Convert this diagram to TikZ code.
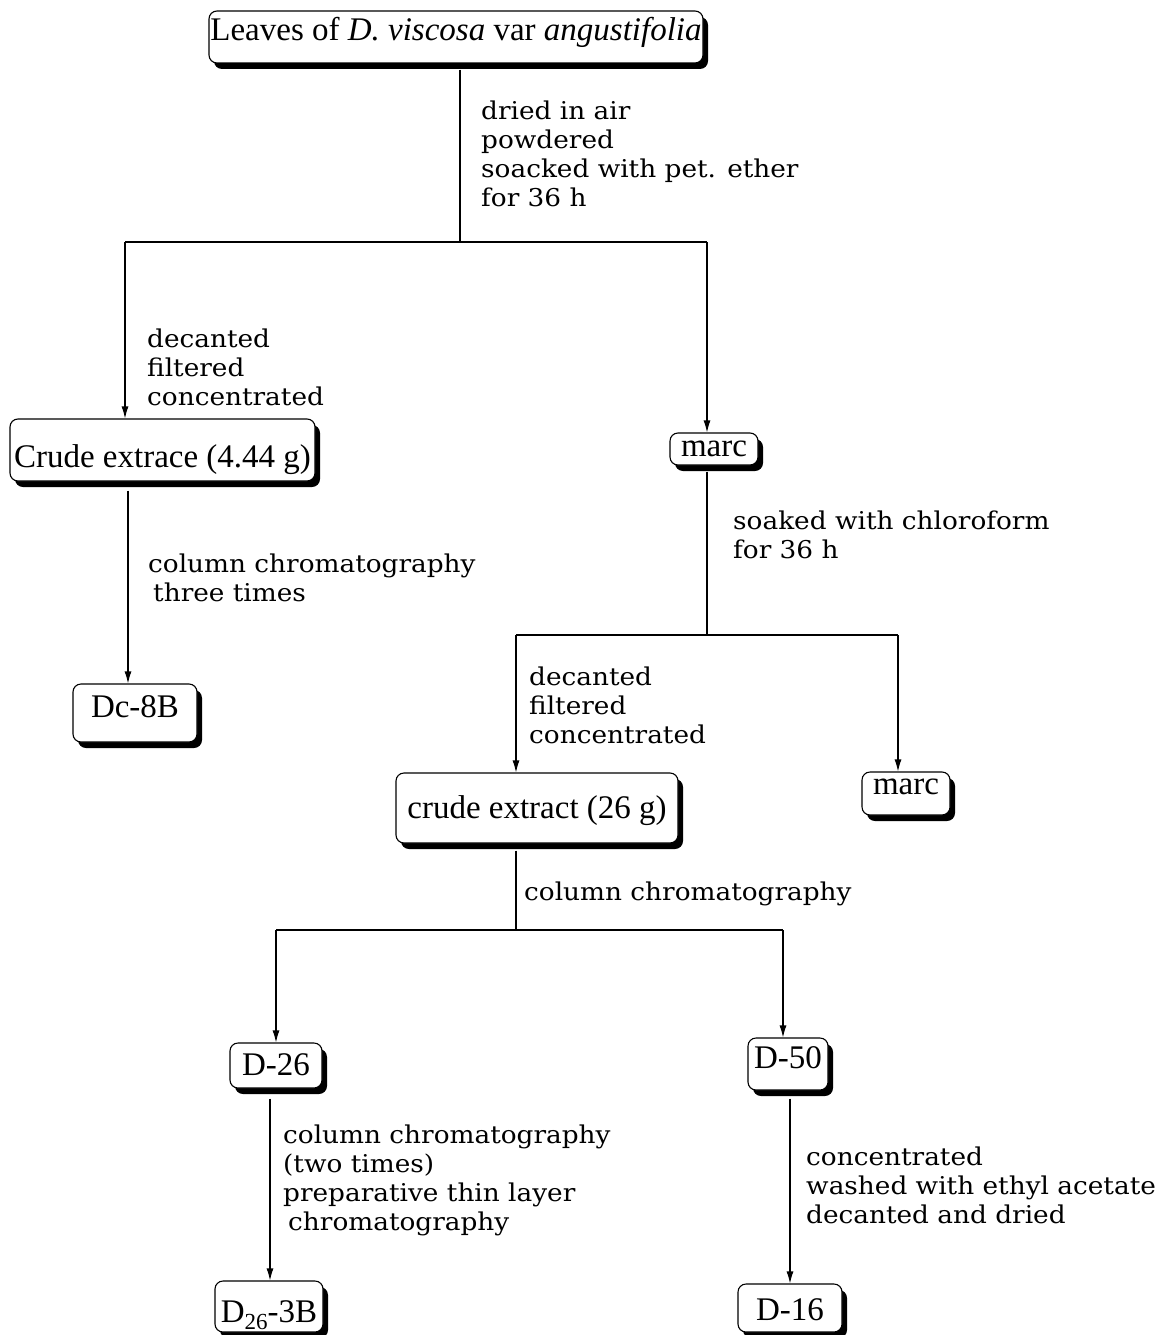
\documentclass[tikz,border=0pt]{standalone}
\usepackage{fontspec}
\setmainfont{Liberation Serif}
\newfontfamily\labfont[FakeStretch=1.075]{DejaVu Serif}
\usetikzlibrary{arrows.meta,shadows,calc}
\begin{document}
\begin{tikzpicture}[x=1pt,y=-1pt,
  box/.style={draw, line width=1.1pt, rounded corners=8pt, fill=white, inner sep=0pt,
    text height=22pt, text depth=8pt, font=\fontsize{33}{39}\selectfont,
    drop shadow={shadow xshift=5pt, shadow yshift=-6pt, fill=black, opacity=1}},
  lab/.style={anchor=north west, inner sep=0pt, align=left, font=\labfont\fontsize{24.5}{28.8}\selectfont},
  conn/.style={line width=1.1pt},
  arr/.style={conn, -{Latex[length=12pt,width=7pt]}}
]
\useasboundingbox (0,0) rectangle (1160,1335);

% boxes
\node[box, minimum width=494pt, minimum height=52pt] (leaves) at (456,37)
  {\raisebox{3pt}{Leaves of \textit{D. viscosa} var \textit{angustifolia}}};
\node[box, minimum width=305pt, minimum height=62pt] (crude1) at (162.5,450)
  {\raisebox{-10pt}{Crude extrace (4.44 g)}};
\node[box, minimum width=88pt, minimum height=32pt] (marc1) at (714,449) {marc};
\node[box, minimum width=124pt, minimum height=58pt] (dc8b) at (135,713)
  {\raisebox{3pt}{Dc-8B}};
\node[box, minimum width=282pt, minimum height=70pt] (crude2) at (537,808)
  {\raisebox{-3pt}{crude extract (26 g)}};
\node[box, minimum width=88pt, minimum height=43pt] (marc2) at (906,793.5)
  {\raisebox{6pt}{marc}};
\node[box, minimum width=92pt, minimum height=45pt] (d26) at (276,1065.5)
  {\raisebox{-3pt}{D-26}};
\node[box, minimum width=80pt, minimum height=52pt] (d50) at (788,1064)
  {\raisebox{3pt}{D-50}};
\node[box, minimum width=108pt, minimum height=51pt] (d263b) at (269,1306.5)
  {\raisebox{-9pt}{D\raisebox{-7pt}{\fontsize{23}{23}\selectfont 26}-3B}};
\node[box, minimum width=104pt, minimum height=48pt] (d16) at (790,1308)
  {\raisebox{-5pt}{D-16}};

% labels
\node[lab] (l1) at (481,101) {dried in air\\powdered\\soacked with pet. ether\\for 36 h};
\node[lab] (l2) at (147,329) {decanted\\filtered\\concentrated};
\node[lab] (l3) at (148,554) {column chromatography\\\hspace{5pt}three times};
\node[lab] (l4) at (733,511) {soaked with chloroform\\for 36 h};
\node[lab] (l5) at (529,667) {decanted\\filtered\\concentrated};
\node[lab] (l6) at (524,882) {column chromatography};
\node[lab] (l7) at (283,1125) {column chromatography\\(two times)\\preparative thin layer\\\hspace{5pt}chromatography};
\node[lab] (l8) at (806,1147) {concentrated\\washed with ethyl acetate\\decanted and dried};

% connectors
\coordinate (j1) at (460,242);
\coordinate (jL) at (125,242);
\coordinate (jR) at (707,242);
\draw[conn] ([yshift=-6pt]leaves.south -| j1) -- (j1);
\draw[conn] (jL) -- (jR);
\draw[arr] (jL) -- (jL |- crude1.north);
\draw[arr] (jR) -- (jR |- marc1.north);

\coordinate (j2) at (707,635);
\coordinate (k2L) at (516,635);
\coordinate (k2R) at (898,635);
\draw[conn] ([yshift=-6pt]marc1.south -| j2) -- (j2);
\draw[conn] (k2L) -- (k2R);
\draw[arr] (k2L) -- (k2L |- crude2.north);
\draw[arr] (k2R) -- (k2R |- marc2.north);

\coordinate (c1) at (128,0);
\draw[arr] ([yshift=-9pt]crude1.south -| c1) -- (c1 |- dc8b.north);

\coordinate (j3) at (516,930);
\coordinate (k3L) at (276,930);
\coordinate (k3R) at (783,930);
\draw[conn] ([yshift=-7pt]crude2.south -| j3) -- (j3);
\draw[conn] (k3L) -- (k3R);
\draw[arr] (k3L) -- (k3L |- d26.north);
\draw[arr] (k3R) -- (k3R |- d50.north);

\coordinate (c4) at (270,0);
\draw[arr] ([yshift=-10pt]d26.south -| c4) -- (c4 |- d263b.north);
\coordinate (c5) at (790,0);
\draw[arr] ([yshift=-8pt]d50.south -| c5) -- (c5 |- d16.north);
\end{tikzpicture}
\end{document}
